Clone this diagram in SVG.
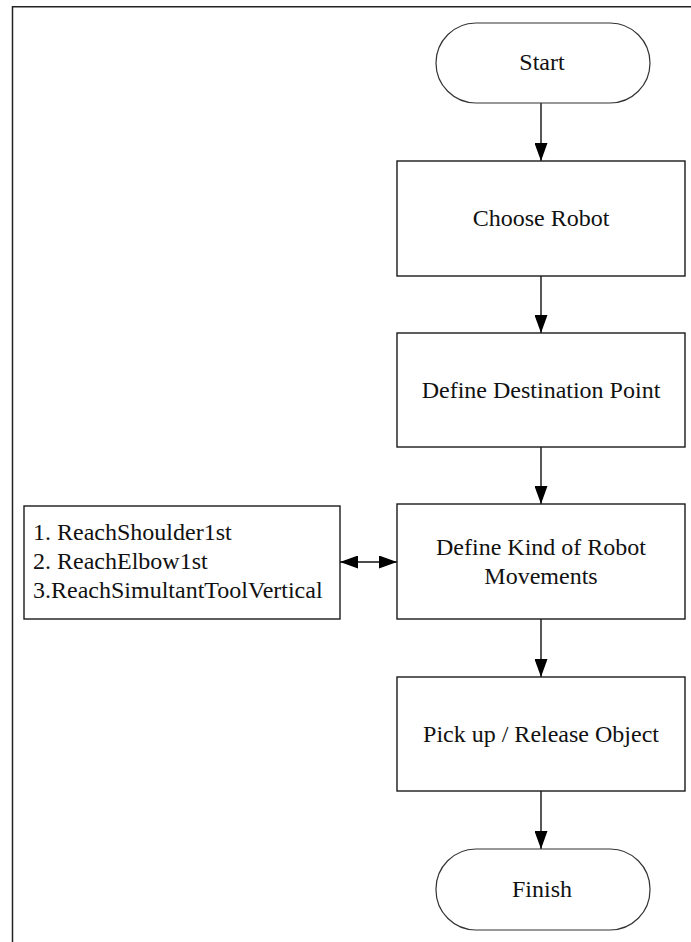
<svg xmlns="http://www.w3.org/2000/svg" width="691" height="942" viewBox="0 0 691 942">
<style>
.box{fill:#fff;stroke:#1a1a1a;stroke-width:1.4}
.term{fill:#fff;stroke:#333;stroke-width:1.2}
.t{font-family:"Liberation Serif","Times New Roman",serif;font-size:24px;fill:#111}
.c{text-anchor:middle}
.ln{stroke:#111;stroke-width:1.4;fill:none}
.frame{stroke:#222;stroke-width:1.5;fill:none}
</style>
<defs>
<marker id="ah" markerWidth="18" markerHeight="13" refX="18" refY="6.5" viewBox="0 0 18 13" markerUnits="userSpaceOnUse" orient="auto-start-reverse">
<path d="M0,0 L18,6.5 L0,13 Z" fill="#000"/>
</marker>
</defs>
<path class="frame" d="M12.5,942 V6.7 H691"/>
<g id="connectors">
<line class="ln" x1="541" y1="103" x2="541" y2="161" marker-end="url(#ah)"/>
<line class="ln" x1="541" y1="276" x2="541" y2="333" marker-end="url(#ah)"/>
<line class="ln" x1="541" y1="447" x2="541" y2="504" marker-end="url(#ah)"/>
<line class="ln" x1="541" y1="619" x2="541" y2="677" marker-end="url(#ah)"/>
<line class="ln" x1="541" y1="791" x2="541" y2="849" marker-end="url(#ah)"/>
<line class="ln" x1="340" y1="562" x2="397" y2="562" marker-start="url(#ah)" marker-end="url(#ah)"/>
</g>
<g id="start">
<rect class="term" x="436" y="23" width="214" height="80" rx="40" ry="40"/>
<text class="t c" x="542" y="70">Start</text>
</g>
<g id="choose-robot">
<rect class="box" x="397" y="161" width="288" height="115"/>
<text class="t c" x="541" y="226">Choose Robot</text>
</g>
<g id="define-destination">
<rect class="box" x="397" y="333" width="288" height="114"/>
<text class="t c" x="541" y="398">Define Destination Point</text>
</g>
<g id="define-kind">
<rect class="box" x="397" y="504" width="288" height="115"/>
<text class="t c" x="541" y="555">Define Kind of Robot</text>
<text class="t c" x="541" y="584">Movements</text>
</g>
<g id="movement-list">
<rect class="box" x="24" y="506" width="316" height="113"/>
<text class="t" x="33" y="540">1. ReachShoulder1st</text>
<text class="t" x="33" y="569">2. ReachElbow1st</text>
<text class="t" x="33" y="598">3.ReachSimultantToolVertical</text>
</g>
<g id="pick-release">
<rect class="box" x="397" y="677" width="288" height="114"/>
<text class="t c" x="541" y="742">Pick up / Release Object</text>
</g>
<g id="finish">
<rect class="term" x="436" y="849" width="214" height="81" rx="40" ry="40"/>
<text class="t c" x="542" y="897">Finish</text>
</g>
</svg>
